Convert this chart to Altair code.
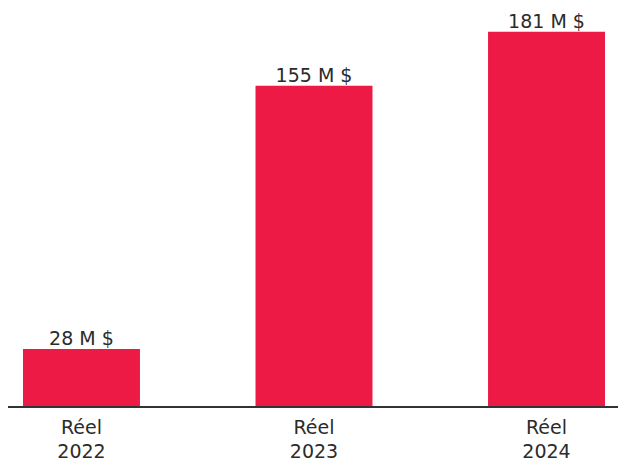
import altair as alt
import pandas as pd

categories = ["Réel 2022", "Réel 2023", "Réel 2024"]
values = [28, 155, 181]
labels = ["28 M $", "155 M $", "181 M $"]

df = pd.DataFrame({"cat": categories, "val": values, "lab": labels})

FONT = "DejaVu Sans"
YMAX = 191.0
x = alt.X("cat:N", sort=categories, title=None,
          scale=alt.Scale(paddingInner=0.497, paddingOuter=0),
          axis=alt.Axis(labelAngle=0, domain=False, ticks=False, labelPadding=11,
                        labelExpr="split(datum.value, ' ')", labelFontSize=19,
                        labelFont=FONT, labelColor="#2b2b2b", labelLineHeight=24))
y = alt.Y("val:Q", scale=alt.Scale(domain=[0, YMAX], nice=False, zero=True), axis=None)

bars = alt.Chart(df).mark_bar(color="#ED1A45", cornerRadius=0).encode(x=x, y=y)
text = alt.Chart(df).mark_text(dy=-4, baseline="alphabetic", fontSize=19, font=FONT,
                               color="#2b2b2b").encode(x=x, y=y, text="lab:N")
rule = alt.Chart(pd.DataFrame({"v": [0]})).mark_rule(color="#333333", strokeWidth=2).encode(
    y=alt.Y("v:Q", scale=alt.Scale(domain=[0, YMAX], nice=False), axis=None),
    x=alt.value(-15), x2=alt.value(600))

chart = alt.layer(bars, rule, text).properties(
    width=582, height=396,
    autosize=alt.AutoSizeParams(type="none"),
    padding={"left": 15, "right": 13, "top": 3, "bottom": 54}
).configure_view(stroke=None)

chart.save("out.html", embed_options={"renderer": "svg", "actions": False})
